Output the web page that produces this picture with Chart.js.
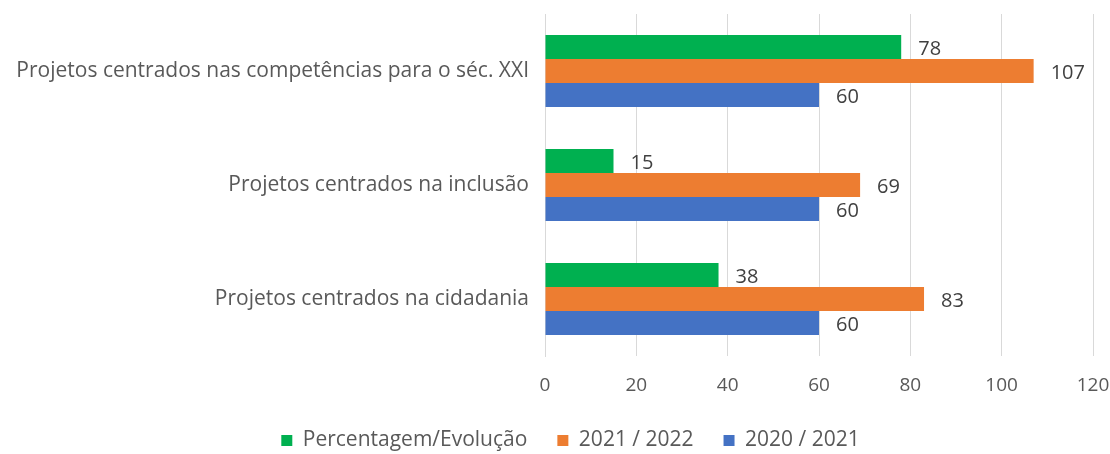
<!DOCTYPE html>
<html>
<head>
<meta charset="utf-8">
<script src="https://cdn.jsdelivr.net/npm/chart.js@4/dist/chart.umd.min.js"></script>
<style>
  html, body { margin: 0; padding: 0; background: #fff; }
  #wrap { width: 1110px; height: 454px; }
</style>
</head>
<body>
<div id="wrap"><canvas id="grafico"></canvas></div>
<script>
const categorias = [
  "Projetos centrados nas competências para o séc. XXI",
  "Projetos centrados na inclusão",
  "Projetos centrados na cidadania"
];
const percentagem = [78, 15, 38];
const ano2122 = [107, 69, 83];
const ano2021 = [60, 60, 60];
const ticksX = [0, 20, 40, 60, 80, 100, 120];

const fonte = "'Open Sans', 'Noto Sans', sans-serif";

// etiquetas de valor ao lado de cada barra
const etiquetas = {
  id: "etiquetas",
  afterDatasetsDraw(chart) {
    const ctx = chart.ctx;
    ctx.save();
    ctx.font = "20px " + fonte;
    ctx.fillStyle = "#404040";
    ctx.textAlign = "left";
    ctx.textBaseline = "middle";
    chart.data.datasets.forEach((ds, i) => {
      chart.getDatasetMeta(i).data.forEach((bar, j) => {
        ctx.fillText(ds.data[j], bar.x + 17, bar.y + 2);
      });
    });
    ctx.restore();
  }
};

// legenda um pouco deslocada para a direita
const moverLegenda = {
  id: "moverLegenda",
  afterLayout(chart) {
    const lg = chart.legend;
    if (lg) {
      lg.left = 48;
      lg.width = lg.right - lg.left;
    }
  }
};

const ctx = document.getElementById("grafico").getContext("2d");

new Chart(ctx, {
  type: "bar",
  data: {
    labels: categorias,
    datasets: [
      { label: "Percentagem/Evolução", data: percentagem, backgroundColor: "#00b050" },
      { label: "2021 / 2022", data: ano2122, backgroundColor: "#ed7d31" },
      { label: "2020 / 2021", data: ano2021, backgroundColor: "#4472c4" }
    ]
  },
  options: {
    responsive: true,
    maintainAspectRatio: false,
    animation: false,
    indexAxis: "y",
    datasets: {
      bar: { categoryPercentage: 0.63, barPercentage: 1.0 }
    },
    layout: { padding: { top: 14, right: 17, left: 0, bottom: -7 } },
    scales: {
      x: {
        min: 0,
        max: 120,
        afterBuildTicks: (s) => { s.ticks = ticksX.map((v) => ({ value: v })); },
        grid: { color: "#d9d9d9", lineWidth: 1, drawTicks: false },
        border: { display: false },
        ticks: { color: "#595959", font: { size: 19, family: fonte }, padding: 18 },
        afterFit: (s) => { s.height = 44; s.paddingLeft = 0; s.paddingRight = 0; }
      },
      y: {
        grid: { display: false, drawTicks: false },
        border: { display: true, color: "#d9d9d9" },
        ticks: { color: "#595959", font: { size: 21, family: fonte }, padding: 16 },
        afterFit: (s) => { s.width = 545; s.paddingTop = 0; s.paddingBottom = 0; }
      }
    },
    plugins: {
      legend: {
        position: "bottom",
        labels: {
          color: "#595959",
          font: { size: 21, family: fonte },
          boxWidth: 11,
          boxHeight: 11,
          padding: 30
        }
      },
      tooltip: { enabled: false }
    }
  },
  plugins: [etiquetas, moverLegenda]
});
</script>
</body>
</html>
